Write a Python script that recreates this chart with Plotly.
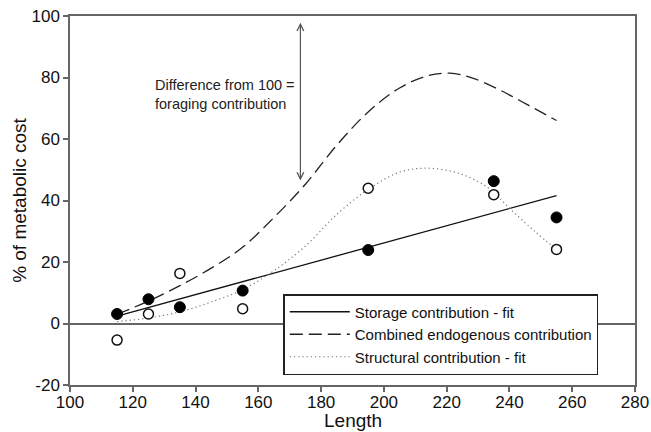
import plotly.graph_objects as go

# Observed points
lengths = [115, 125, 135, 155, 195, 235, 255]
storage_obs = [3.1, 7.9, 5.3, 10.7, 23.9, 46.3, 34.5]      # filled circles
structural_obs = [-5.4, 3.1, 16.3, 4.8, 44.0, 41.9, 24.1]  # open circles

# Storage contribution - fit (straight line)
storage_fit_x = [115, 255]
storage_fit_y = [2.4, 41.6]

# Combined endogenous contribution
combined_x = [115, 125, 135, 145, 155, 165, 175, 185, 195, 205, 214, 221, 228, 237, 246, 255]
combined_y = [3.0, 7.3, 12.3, 18.0, 24.8, 34.5, 45.3, 58.0, 68.8, 76.6, 80.6, 81.4, 79.9, 75.9, 71.0, 66.0]

# Structural contribution - fit
structural_x = [115, 125, 135, 145, 155, 165, 175, 185, 195, 205, 214, 224, 233, 240, 248, 255]
structural_y = [0.6, 1.8, 3.8, 7.0, 11.0, 17.2, 25.2, 35.5, 43.6, 49.2, 50.5, 48.8, 44.3, 37.5, 30.0, 24.1]

x_ticks = [100, 120, 140, 160, 180, 200, 220, 240, 260, 280]
y_ticks = [-20, 0, 20, 40, 60, 80, 100]

FONT = "Liberation Sans, Arial, sans-serif"
AX = "#666666"

fig = go.Figure()

fig.add_trace(go.Scatter(
    x=storage_fit_x, y=storage_fit_y, mode="lines",
    line=dict(color="#111111", width=1.3),
    name="Storage contribution - fit"))
fig.add_trace(go.Scatter(
    x=combined_x, y=combined_y, mode="lines", line_shape="spline",
    line=dict(color="#222222", width=1.3, dash="13px,6px"),
    name="Combined endogenous contribution"))
fig.add_trace(go.Scatter(
    x=structural_x, y=structural_y, mode="lines", line_shape="spline",
    line=dict(color="#777777", width=1.2, dash="1.2px,3px"),
    name="Structural contribution - fit"))
fig.add_trace(go.Scatter(
    x=lengths, y=storage_obs, mode="markers",
    marker=dict(color="black", size=11, line=dict(color="black", width=1)),
    showlegend=False, name="Storage"))
fig.add_trace(go.Scatter(
    x=lengths, y=structural_obs, mode="markers",
    marker=dict(color="white", size=10, line=dict(color="#111111", width=1.5)),
    showlegend=False, name="Structural"))

fig.add_annotation(
    x=173.4, y=46.5, ax=173.4, ay=98.3, xref="x", yref="y", axref="x", ayref="y",
    showarrow=True, arrowside="end+start", arrowhead=5, startarrowhead=5,
    arrowsize=1.1, startarrowsize=1.1, arrowwidth=1.2, arrowcolor="#555555", text="")
fig.add_annotation(
    x=126.4, y=74.5, xref="x", yref="y", xanchor="left", yanchor="middle",
    showarrow=False, align="left",
    text="Difference from 100 =<br>foraging contribution",
    font=dict(family=FONT, size=14.5, color="#222222"))
# x-axis title
fig.add_annotation(
    x=0.5, y=-0.096, xref="paper", yref="paper", xanchor="center", yanchor="middle",
    showarrow=False, text="Length",
    font=dict(family=FONT, size=19, color="#111111"))

fig.update_layout(
    width=651, height=432,
    margin=dict(l=70, r=16, t=16, b=47),
    paper_bgcolor="white", plot_bgcolor="white",
    font=dict(family=FONT, size=17, color="#111111"),
    showlegend=True,
    legend=dict(
        x=0.3775, y=0.2466, xanchor="left", yanchor="top",
        bgcolor="white", bordercolor="#222222", borderwidth=1.5,
        font=dict(family=FONT, size=15, color="#111111"),
        itemwidth=60, tracegroupgap=0),
)
fig.update_xaxes(
    range=[100, 280], tickvals=x_ticks, ticktext=[str(v) for v in x_ticks],
    showline=True, mirror=True, linecolor=AX, linewidth=1.5,
    ticks="outside", ticklen=5, tickwidth=1.5, tickcolor=AX,
    showgrid=False, zeroline=False, automargin=False, ticklabelstandoff=-4,
    tickfont=dict(family=FONT, size=17, color="#111111"))
fig.update_yaxes(
    range=[-20, 100], tickvals=y_ticks, ticktext=[str(v) for v in y_ticks],
    showline=True, mirror=True, linecolor=AX, linewidth=1.5,
    ticks="outside", ticklen=5, tickwidth=1.5, tickcolor=AX,
    showgrid=False, zeroline=True, zerolinecolor=AX, zerolinewidth=1.5, automargin=False,
    tickfont=dict(family=FONT, size=17, color="#111111"),
    title=dict(text="% of metabolic cost", font=dict(family=FONT, size=19, color="#111111"), standoff=0))

fig.write_html("out.html")
